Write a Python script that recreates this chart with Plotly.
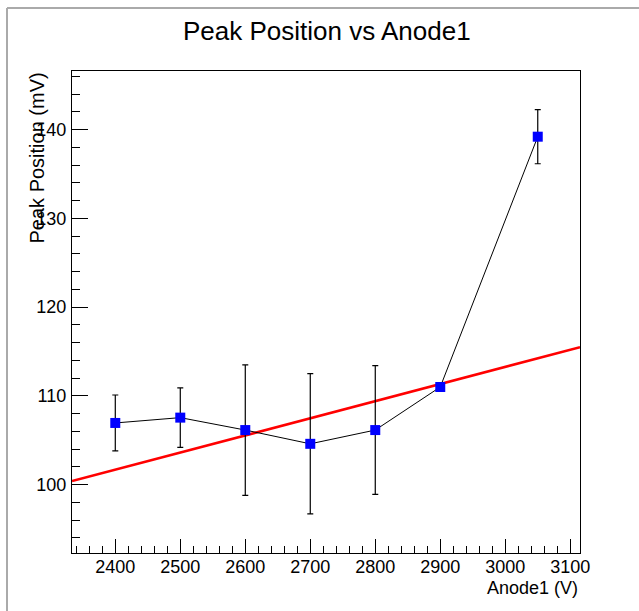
import plotly.graph_objects as go

# ---- data ----
anode_v = [2400, 2500, 2600, 2700, 2800, 2900, 3050]
peak_mv = [106.95, 107.55, 106.15, 104.6, 106.15, 111.0, 139.2]
peak_err = [3.15, 3.35, 7.35, 7.9, 7.25, 0.3, 3.05]
fit_p0 = 55.37      # intercept of linear fit (mV)
fit_p1 = 0.0193     # slope of linear fit (mV/V)

x_range = [2333.4, 3115.0]
y_range = [92.3, 146.6]

W, H = 639, 611
ML, MR, MT, MB = 72, 59, 71, 58
PW, PH = W - ML - MR, H - MT - MB

def px(xp):
    return (xp - ML) / PW

def py(yp):
    return (H - MB - yp) / PH

fit_x = x_range
fit_y = [fit_p0 + fit_p1 * v for v in fit_x]

fig = go.Figure()
fig.add_trace(go.Scatter(x=fit_x, y=fit_y, mode="lines",
                         line=dict(color="#ff0000", width=2.6),
                         showlegend=False, hoverinfo="skip"))
fig.add_trace(go.Scatter(x=anode_v, y=peak_mv, mode="lines+markers",
                         line=dict(color="black", width=1),
                         marker=dict(symbol="square", size=10, color="#0000ff",
                                     line=dict(width=0)),
                         error_y=dict(type="data", array=peak_err, color="black",
                                      thickness=1.2, width=3),
                         showlegend=False))

font = "Liberation Sans, Arial, Helvetica, sans-serif"

fig.update_layout(
    width=W, height=H,
    margin=dict(l=ML, r=MR, t=MT, b=MB),
    paper_bgcolor="white", plot_bgcolor="white",
    font=dict(family=font, color="black"),
    xaxis=dict(range=x_range, showgrid=False, zeroline=False,
               showline=True, linecolor="black", linewidth=1.3, mirror=True,
               ticks="inside", ticklen=14, tickwidth=1, tickcolor="black",
               tick0=2400, dtick=100, tickfont=dict(size=18),
               ticklabelstandoff=-3,
               minor=dict(ticks="inside", ticklen=7, tickwidth=1,
                          tickcolor="black", dtick=20, showgrid=False)),
    yaxis=dict(range=y_range, showgrid=False, zeroline=False,
               showline=True, linecolor="black", linewidth=1.3, mirror=True,
               ticks="inside", ticklen=16, tickwidth=1, tickcolor="black",
               tick0=100, dtick=10, tickfont=dict(size=18),
               ticklabelstandoff=1,
               minor=dict(ticks="inside", ticklen=8, tickwidth=1,
                          tickcolor="black", dtick=2, showgrid=False)),
    annotations=[
        dict(text="Peak Position vs Anode1", xref="paper", yref="paper",
             x=px(327), y=py(31), xanchor="center", yanchor="middle",
             showarrow=False, font=dict(size=26)),
        dict(text="Peak Position (mV)", xref="paper", yref="paper",
             x=px(36), y=py(71), xanchor="center", yanchor="top",
             textangle=-90, showarrow=False, font=dict(size=20)),
        dict(text="Anode1 (V)", xref="paper", yref="paper",
             x=px(580), y=py(588), xanchor="right", yanchor="middle",
             showarrow=False, font=dict(size=18)),
    ],
    shapes=[
        dict(type="line", xref="paper", yref="paper",
             x0=px(7), x1=px(W + 2), y0=py(8), y1=py(8),
             line=dict(color="#aaaaaa", width=2)),
        dict(type="line", xref="paper", yref="paper",
             x0=px(7), x1=px(7), y0=py(8), y1=py(H + 2),
             line=dict(color="#aaaaaa", width=2)),
    ],
)

fig.write_html("out.html")
